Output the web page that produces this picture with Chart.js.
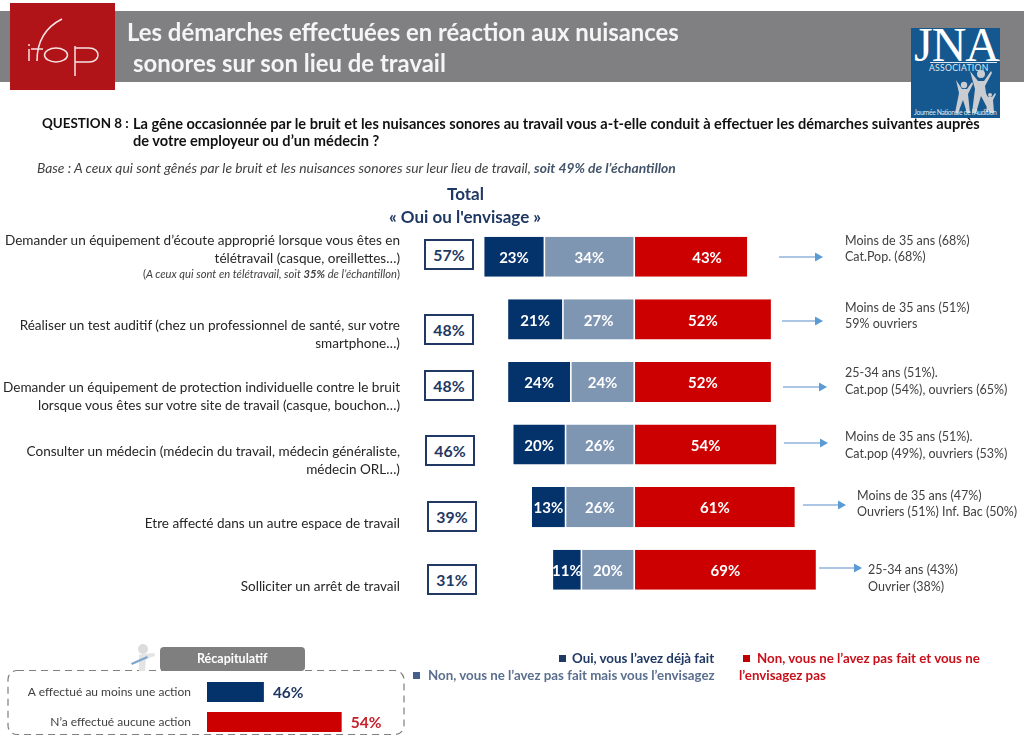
<!DOCTYPE html>
<html lang="fr">
<head>
<meta charset="utf-8">
<title>Les démarches effectuées en réaction aux nuisances sonores</title>
<script src="https://cdn.jsdelivr.net/npm/chart.js@4"></script>
<style>
  html, body { margin: 0; padding: 0; background: #fff; }
  body { width: 1024px; height: 737px; position: relative; overflow: hidden; font-family: Lato, sans-serif; color: #262626; }
  canvas { position: absolute; }
  .t { position: absolute; white-space: nowrap; transform: translateY(-50%); line-height: 1; }
  #band { position: absolute; left: 0; top: 11px; width: 1024px; height: 71px; background: #807f82; }
  #redLogo { position: absolute; left: 10px; top: 3px; width: 105px; height: 87px; background: #b01318; }
  #jna { position: absolute; left: 911px; top: 28px; width: 89px; height: 90px; background: #14588f; overflow: hidden; }
  #pill { position: absolute; left: 160px; top: 647px; width: 145px; height: 24px; background: #7f7f7f; border-radius: 4px; }
  .totalBox { position: absolute; width: 46px; height: 27px; border: 2.5px solid #1f3864; background: #fff; color: #1f3864;
    font-weight: 700; font-size: 15.8px; text-align: center; line-height: 28px; }
  .sq { position: absolute; width: 7px; height: 7px; }
</style>
</head>
<body>
<div id="band"></div>
<div id="redLogo">
  <svg width="105" height="87" viewBox="0 0 105 87" fill="none" stroke="#f6e4e4" stroke-width="1.5">
    <path d="M19 46v12M18 42h2"/>
    <path d="M52 16C36 24 27 38 27 58M21 46h12"/>
    <ellipse cx="46" cy="52" rx="11.5" ry="7"/>
    <path d="M65 43v30M65 45h14c12 0 12 14 0 14H65"/>
  </svg>
</div>
<div id="jna">
  <div class="t" style="left:3px;top:16px;font:48px 'Liberation Serif',serif;color:#fff;letter-spacing:-1px;">JNA</div>
  <div style="position:absolute;left:19px;top:34px;width:67px;height:1px;background:#dfe8f0;"></div>
  <div class="t" style="left:18px;top:39.5px;font-size:8.6px;color:#dfe8f0;letter-spacing:.3px;">ASSOCIATION</div>
  <svg style="position:absolute;left:40px;top:41px;" width="48" height="44" viewBox="0 0 48 44" fill="#c9ccd0">
    <circle cx="30" cy="5" r="4"/><path d="M19 2l8 10h6l7-10 1 2-7 13 1 7 8 20h-4l-9-17-5 17h-4l3-24z"/>
    <circle cx="13" cy="16" r="3.2"/><path d="M5 11l6 9h5l5-7 1 2-5 10 2 19h-3l-4-13-5 13H4l4-20z"/>
    <circle cx="39" cy="26" r="2"/><path d="M34 24l3 4h4l3-4 1 1-3 6 1 12h-2l-2-8-2 8h-2l2-13z"/>
  </svg>
  <div class="t" style="left:3px;top:84px;font-size:6.8px;color:#dfe8f0;letter-spacing:-.35px;">Journée Nationale de l’Audition</div>
</div>

<svg style="position:absolute;left:0;top:660px;" width="420" height="77" fill="none">
  <rect x="8" y="10.5" width="396" height="64" rx="9" stroke="#7f7f7f" stroke-width="1.2" stroke-dasharray="7 5"/>
</svg>
<div id="pill"></div>
<svg style="position:absolute;left:128px;top:644px;" width="30" height="28" viewBox="0 0 30 28">
  <circle cx="15" cy="5" r="5" fill="#dcdcdc"/>
  <path d="M11 11c5-2 9-1 15-2l1 3-9 3-1 12h-6z" fill="#e4e4e4"/>
  <path d="M3 19l16-7 1 2-16 7z" fill="#7fa6cf"/>
</svg>

<canvas id="mainChart" width="1024" height="737" style="left:0;top:0"></canvas>
<canvas id="recapChart" width="420" height="70" style="left:0;top:667px"></canvas>
<div id="overlay"></div>

<script>
// Chart data
const categories = [
  'Demander un équipement d’écoute approprié lorsque vous êtes en|télétravail (casque, oreillettes…)',
  'Réaliser un test auditif (chez un professionnel de santé, sur votre|smartphone…)',
  'Demander un équipement de protection individuelle contre le bruit|lorsque vous êtes sur votre site de travail (casque, bouchon…)',
  'Consulter un médecin (médecin du travail, médecin généraliste,|médecin ORL…)',
  'Etre affecté dans un autre espace de travail',
  'Solliciter un arrêt de travail'
];
const ouiFait = [23, 21, 24, 20, 13, 11];
const ouiEnvisage = [34, 27, 24, 26, 26, 20];
const nonPas = [43, 52, 52, 54, 61, 69];
const totals = [57, 48, 48, 46, 39, 31];
const notes = [
  'Moins de 35 ans (68%)|Cat.Pop. (68%)',
  'Moins de 35 ans (51%)|59% ouvriers',
  '25-34 ans (51%).|Cat.pop (54%), ouvriers (65%)',
  'Moins de 35 ans (51%).|Cat.pop (49%), ouvriers (53%)',
  'Moins de 35 ans (47%)|Ouvriers (51%) Inf. Bac (50%)',
  '25-34 ans (43%)|Ouvrier (38%)'
];
const recapLabels = ['A effectué au moins une action', 'N’a effectué aucune action'];
const recapValues = [46, 54];

// Colours
const navy = '#04326b';
const slate = '#7f96b3';
const red = '#cc0000';
const ink = '#1f3864';

// Layout tweaks per row, in pixels, relative to the bar centre
const catLabelY = [-16, 6.5, 6.5, 7.5, 17, 17];
const boxY = [-2, 11, 4, 6, 10, 10];
const boxX = [424, 424, 424, 425, 427, 427];
const arrowX = [[779, 823], [782, 823], [783, 827], [784, 828], [803, 846], [819, 862]];
const arrowY = [0, 2, 5, -2, -2, -2];
const noteX = [845, 845, 845, 845, 857, 868];
const noteY = [-16, -11.5, -8.5, -7.5, -11.5, 0.5];
const redLabelNudge = [16, 0, 0, 0, 0, 0];

// White percentage labels inside the bars
const barValues = {
  id: 'barValues',
  afterDatasetsDraw(chart) {
    const ctx = chart.ctx;
    ctx.save();
    ctx.font = '700 15px Lato';
    ctx.fillStyle = '#fff';
    ctx.textAlign = 'center';
    ctx.textBaseline = 'middle';
    chart.data.datasets.forEach((ds, d) => {
      chart.getDatasetMeta(d).data.forEach((bar, i) => {
        const nudge = ds.label === 'non' ? redLabelNudge[i] : 0;
        ctx.fillText(Math.abs(ds.data[i]) + '%', bar.getCenterPoint().x + nudge, bar.y + 1.5);
      });
    });
    ctx.restore();
  }
};

const mainChart = new Chart('mainChart', {
  type: 'bar',
  data: {
    labels: categories,
    datasets: [
      // negative stack grows away from zero, so the lighter segment comes first
      { label: 'envisage', data: ouiEnvisage.map(v => -v), backgroundColor: slate },
      { label: 'oui', data: ouiFait.map(v => -v), backgroundColor: navy },
      { label: 'non', data: nonPas, backgroundColor: red }
    ]
  },
  options: {
    indexAxis: 'y',
    responsive: false,
    animation: false,
    layout: { padding: { left: 370, right: 125.5, top: 225.5, bottom: 136 } },
    datasets: { bar: { barPercentage: 0.64, categoryPercentage: 1, borderColor: '#fff',
      borderWidth: { left: 0.8, right: 0.8, top: 0, bottom: 0 }, borderSkipped: false } },
    scales: {
      x: { display: false, stacked: true, min: -100, max: 100 },
      y: { display: false, stacked: true }
    },
    plugins: { legend: { display: false }, tooltip: { enabled: false } }
  },
  plugins: [barValues]
});

// Recap values beside the bars
const recapValueLabels = {
  id: 'recapValueLabels',
  afterDatasetsDraw(chart) {
    const ctx = chart.ctx;
    ctx.save();
    ctx.font = '700 15.5px Lato';
    ctx.textBaseline = 'middle';
    chart.getDatasetMeta(0).data.forEach((bar, i) => {
      ctx.fillStyle = i === 0 ? ink : '#c8202a';
      ctx.fillText(recapValues[i] + '%', bar.x + 9, bar.y + 1);
    });
    ctx.restore();
  }
};

new Chart('recapChart', {
  type: 'bar',
  data: {
    labels: recapLabels,
    datasets: [{ data: recapValues, backgroundColor: [navy, red], barPercentage: 0.667, categoryPercentage: 1 }]
  },
  options: {
    indexAxis: 'y',
    responsive: false,
    animation: false,
    layout: { padding: { top: 10, bottom: 0, right: 20 } },
    scales: {
      // the original bars are not proportional: 46 and 54 only fit on a cut axis
      x: { display: false, min: 40.15, max: 60 },
      y: {
        afterFit: s => { s.width = 207; s.paddingTop = 0; s.paddingBottom = 0; },
        grid: { display: false, drawTicks: false },
        border: { display: false },
        ticks: { padding: 16, color: '#404040', font: { family: 'Lato', size: 12 } }
      }
    },
    plugins: { legend: { display: false }, tooltip: { enabled: false } }
  },
  plugins: [recapValueLabels]
});

// Text placed on the page
const overlay = document.getElementById('overlay');
function put(html, x, y, css) {
  const el = document.createElement('div');
  el.className = 't';
  el.innerHTML = html;
  el.style.cssText = (x < 0 ? 'right:' + (1024 + x) + 'px;' : 'left:' + x + 'px;') + 'top:' + y + 'px;' + (css || '');
  overlay.appendChild(el);
  return el;
}

const titleCss = 'font-weight:700;font-size:23.9px;color:#f5f5f5;';
put('Les démarches effectuées en réaction aux nuisances', 127, 32, titleCss);
put('sonores sur son lieu de travail', 133, 63, titleCss);

const questionCss = 'font-weight:700;font-size:14.6px;color:#111;';
put('QUESTION 8 :', 42, 124, questionCss + 'font-size:13.4px;');
put('La gêne occasionnée par le bruit et les nuisances sonores au travail vous a-t-elle conduit à effectuer les démarches suivantes auprès', 133, 124, questionCss);
put('de votre employeur ou d’un médecin ?', 133, 141, questionCss);
put('Base : A ceux qui sont gênés par le bruit et les nuisances sonores sur leur lieu de travail, <b style="color:#44546a">soit 49% de l’échantillon</b>', 37, 168,
  'font-style:italic;font-size:13.85px;color:#404040;');

put('Total', 447, 193, 'font-weight:700;font-size:17px;color:' + ink + ';');
put('« Oui ou l\'envisage »', 389, 216, 'font-weight:700;font-size:17px;color:' + ink + ';');

// One block of text, arrow and total box per row, hung on the chart's own y scale
const yScale = mainChart.scales.y;
categories.forEach((cat, i) => {
  const yc = yScale.getPixelForValue(i);
  cat.split('|').forEach((line, k) => {
    put(line, -400, yc + catLabelY[i] + k * 18, 'font-size:13.55px;color:#262626;');
  });

  const box = document.createElement('div');
  box.className = 'totalBox';
  box.textContent = totals[i] + '%';
  box.style.left = boxX[i] + 'px';
  box.style.top = (yc + boxY[i] - 16) + 'px';
  overlay.appendChild(box);

  notes[i].split('|').forEach((line, k) => {
    put(line, noteX[i], yc + noteY[i] + k * 16.6, 'font-size:12.5px;color:#404040;');
  });

  const [x0, x1] = arrowX[i];
  const ay = yc + arrowY[i];
  const svg = '<svg width="' + (x1 - x0) + '" height="9" style="display:block">' +
    '<line x1="0" y1="4.5" x2="' + (x1 - x0 - 6) + '" y2="4.5" stroke="#8fb4dc" stroke-width="1.3"/>' +
    '<path d="M' + (x1 - x0 - 8) + ' 0L' + (x1 - x0) + ' 4.5L' + (x1 - x0 - 8) + ' 9z" fill="#5b9bd5"/></svg>';
  put(svg, x0, ay);
});
put('(<i>A ceux qui sont en télétravail, soit <b>35%</b> de l’échantillon</i>)', -400, yScale.getPixelForValue(0) + 17.5, 'font-size:11.2px;color:#404040;');

// Legend
const legendItems = [
  { sq: 559, y: 659, x: 572, text: 'Oui, vous l’avez déjà fait', color: ink, sqColor: ink },
  { sq: 413, y: 676, x: 428, text: 'Non, vous ne l’avez pas fait mais vous l’envisagez', color: '#5a6f8f', sqColor: '#44608a' },
  { sq: 743, y: 659, x: 757, text: 'Non, vous ne l’avez pas fait et vous ne', color: '#c8101a', sqColor: '#c00000' }
];
legendItems.forEach(it => {
  const sq = document.createElement('div');
  sq.className = 'sq';
  sq.style.left = it.sq + 'px';
  sq.style.top = (it.y - 4) + 'px';
  sq.style.background = it.sqColor;
  overlay.appendChild(sq);
  put(it.text, it.x, it.y, 'font-weight:700;font-size:13.3px;color:' + it.color + ';');
});
put('l’envisagez pas', 739, 676, 'font-weight:700;font-size:13.3px;color:#c8101a;');

put('Récapitulatif', 197, 659, 'font-weight:700;font-size:12.5px;color:#fff;');
</script>
</body>
</html>
